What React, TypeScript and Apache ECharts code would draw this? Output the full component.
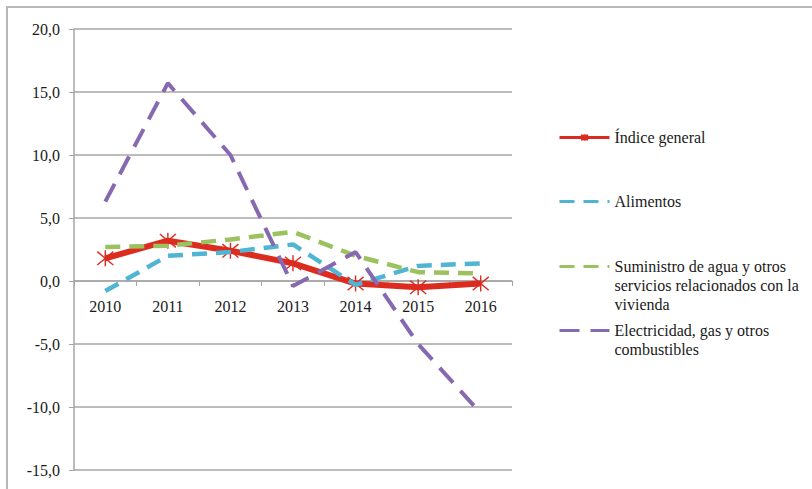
import React, { useEffect, useRef } from "react";
import * as echarts from "echarts";

const years = ["2010", "2011", "2012", "2013", "2014", "2015", "2016"];
const indiceGeneral = [1.8, 3.2, 2.4, 1.4, -0.2, -0.5, -0.2];
const alimentos = [-0.8, 2.0, 2.3, 2.9, -0.3, 1.2, 1.4];
const suministroAgua = [2.7, 2.8, 3.3, 3.9, 2.0, 0.7, 0.6];
const electricidad = [6.3, 15.7, 10.0, -0.4, 2.3, -5.0, -10.5];

const Y_MIN = -15;
const Y_MAX = 20;

const NAME_GEN = "Índice general";
const NAME_ALI = "Alimentos";
const NAME_AGUA = "Suministro de agua y otros servicios relacionados con la vivienda";
const NAME_ELEC = "Electricidad, gas y otros combustibles";
const LABEL_AGUA = ["Suministro de agua y otros", "servicios relacionados con la", "vivienda"];
const LABEL_ELEC = ["Electricidad, gas y otros", "combustibles"];

const FONT = "'Liberation Serif', 'DejaVu Serif', serif";
const RED = "#dc2b1f";
const CYAN = "#4fb5d2";
const GREEN = "#9bc25e";
const PURPLE = "#8669b0";
const LH = 19;
const FS = 16;

const asterisk = "path://M0,0L10,10M10,0L0,10M5,-1L5,11";

// prepend empty lines so that the first line stays centred on the legend icon
const firstLineCentred = (lines: string[]) =>
  Array(lines.length - 1).fill("").concat(lines).join("\n");

const W = 812;
const H = 489;
const GRID_TOP = 29;
const GRID_BOTTOM = 19;

export default function App() {
  const ref = useRef<HTMLDivElement>(null);
  useEffect(() => {
    if (!ref.current) return;
    const chart = echarts.init(ref.current, undefined, { renderer: "svg" });
    // move the category axis up to the value 0 line
    const gridH = H - GRID_TOP - GRID_BOTTOM;
    const zeroOffset = -(gridH * (0 - Y_MIN)) / (Y_MAX - Y_MIN);
    const legendBase = {
      left: 558,
      orient: "vertical",
      padding: 0,
      itemWidth: 50,
      itemHeight: 14,
      itemGap: 0,
      selectedMode: false,
      lineStyle: { width: 3 },
      itemStyle: { opacity: 0 },
      textStyle: {
        fontFamily: FONT,
        fontSize: FS,
        color: "#1a1a1a",
        lineHeight: LH,
      },
    };
    chart.setOption({
      animation: false,
      backgroundColor: "#ffffff",
      textStyle: { fontFamily: FONT },
      graphic: [
        {
          type: "rect",
          shape: { x: 7, y: 7, width: 900, height: 600 },
          style: { fill: "none", stroke: "#b8b8b8", lineWidth: 2 },
          silent: true,
        },
      ],
      grid: {
        left: 74,
        right: 300,
        top: GRID_TOP,
        bottom: GRID_BOTTOM,
        containLabel: false,
        outerBoundsMode: "none",
      },
      legend: [
        {
          ...legendBase,
          top: 128,
          itemHeight: 8,
          itemStyle: { opacity: 1 },
          data: [NAME_GEN],
        },
        { ...legendBase, top: 192, data: [NAME_ALI] },
        {
          ...legendBase,
          top: 257 - 2 * LH,
          data: [NAME_AGUA],
          formatter: () => firstLineCentred(LABEL_AGUA),
        },
        {
          ...legendBase,
          top: 321 - LH,
          data: [NAME_ELEC],
          formatter: () => firstLineCentred(LABEL_ELEC),
        },
      ],
      xAxis: {
        type: "category",
        data: years,
        boundaryGap: true,
        position: "bottom",
        offset: zeroOffset,
        axisLine: {
          onZero: false,
          lineStyle: { color: "#a6a6a6", width: 1.5 },
        },
        axisTick: { show: true, length: 5, lineStyle: { color: "#a6a6a6" } },
        axisLabel: {
          fontFamily: FONT,
          fontSize: FS,
          color: "#1a1a1a",
          margin: 17,
        },
        splitLine: { show: false },
      },
      yAxis: {
        type: "value",
        min: Y_MIN,
        max: Y_MAX,
        interval: 5,
        axisLine: { show: true, lineStyle: { color: "#a6a6a6", width: 1.5 } },
        axisTick: { show: true, length: 5, lineStyle: { color: "#a6a6a6" } },
        axisLabel: {
          fontFamily: FONT,
          fontSize: FS,
          color: "#1a1a1a",
          margin: 14,
          formatter: (v: number) => v.toFixed(1).replace(".", ","),
        },
        splitLine: { show: true, lineStyle: { color: "#a6a6a6", width: 1.5 } },
      },
      series: [
        {
          name: NAME_GEN,
          type: "line",
          data: indiceGeneral,
          lineStyle: { color: RED, width: 6 },
          itemStyle: { color: RED, borderColor: RED, borderWidth: 1.4 },
          symbol: asterisk,
          symbolSize: 16,
          showAllSymbol: true,
          z: 2,
        },
        {
          name: NAME_ALI,
          type: "line",
          data: alimentos,
          lineStyle: { color: CYAN, width: 4.5, type: [15, 9] },
          itemStyle: { color: CYAN },
          symbol: "none",
          z: 3,
        },
        {
          name: NAME_AGUA,
          type: "line",
          data: suministroAgua,
          lineStyle: { color: GREEN, width: 4.5, type: [15, 9] },
          itemStyle: { color: GREEN },
          symbol: "none",
          z: 3,
        },
        {
          name: NAME_ELEC,
          type: "line",
          data: electricidad,
          lineStyle: { color: PURPLE, width: 4, type: [20, 11] },
          itemStyle: { color: PURPLE },
          symbol: "none",
          z: 3,
        },
      ],
    });
    return () => chart.dispose();
  }, []);
  return (
    <div
      ref={ref}
      style={{ position: "fixed", left: 0, top: 0, width: W, height: H }}
    />
  );
}
